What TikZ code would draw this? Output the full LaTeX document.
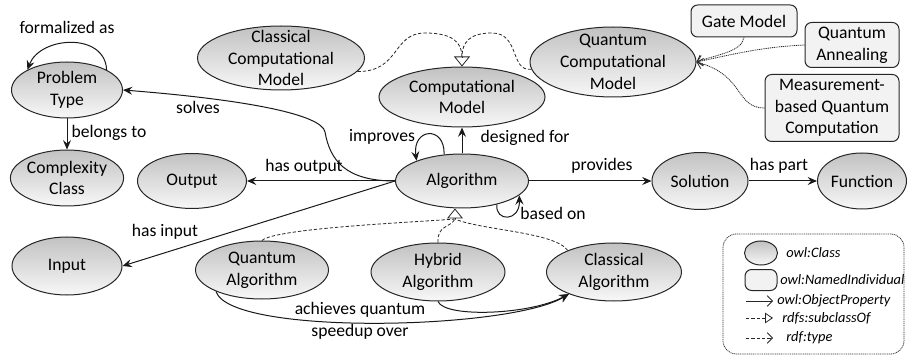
\documentclass[tikz,border=0pt]{standalone}
\usepackage{fontspec}
\setmainfont{Carlito}
\usetikzlibrary{shapes.geometric,arrows.meta}

\begin{document}
\begin{tikzpicture}[x=0.75pt,y=-0.75pt,
  font=\fontsize{13.2}{16.3}\selectfont,
  cls/.style={ellipse, draw=black!85, line width=0.75pt, top color=black!24,
    bottom color=black!3, inner sep=0pt, align=center, text=black},
  ind/.style={rectangle, rounded corners=5pt, draw=black!85, line width=0.75pt,
    fill=black!5, inner sep=0pt, align=center, text=black},
  sz/.style 2 args={minimum width=#1*0.75pt, minimum height=#2*0.75pt},
  rel/.style={draw=black!90, line width=0.75pt, -{Stealth[length=7pt,width=6pt,inset=2.5pt]}},
  sub/.style={draw=black!85, line width=0.6pt, dash pattern=on 2.5pt off 1.5pt},
  subtip/.style={draw=black!85, line width=0.6pt, -{Triangle[open,length=7.5pt,width=12pt]}},
  typ/.style={draw=black!85, line width=0.6pt, dash pattern=on 0.8pt off 0.6pt,
    -{Straight Barb[length=4pt,width=8pt]}},
  lbl/.style={inner sep=0pt, align=center, text=black},
  leg/.style={inner sep=0pt, anchor=west, text=black,
    font=\fontsize{10.8}{13}\selectfont\itshape},
]
\useasboundingbox (0,0) rectangle (907,356);

% classes
\node[cls, sz={111}{56}] (pt)   at (67,90)   {Problem\\Type};
\node[cls, sz={110}{56}] (cc)   at (67,178)  {Complexity\\Class};
\node[cls, sz={109}{55}] (outp) at (192,181) {Output};
\node[cls, sz={110}{58}] (inp)  at (67,266)  {Input};
\node[cls, sz={133}{54}] (alg)  at (462,181) {Algorithm};
\node[cls, sz={96}{57}]  (sol)  at (700,181) {Solution};
\node[cls, sz={89}{56}]  (fun)  at (862,181) {Function};
\node[cls, sz={166}{60}] (cm)   at (462,97)  {Computational\\Model};
\node[cls, sz={167}{64}, inner ysep=-9pt] (ccm) at (281,58) {Classical\\Computational\\Model};
\node[cls, sz={166}{70}, inner ysep=-9pt] (qcm) at (613,62) {Quantum\\Computational\\Model};
\node[cls, sz={133}{58}] (qalg) at (262,270) {Quantum\\Algorithm};
\node[cls, sz={134}{58}] (hyb)  at (438,272) {Hybrid\\Algorithm};
\node[cls, sz={135}{58}] (calg) at (614,272) {Classical\\Algorithm};

% individuals
\node[ind, sz={106}{32}] (gm)  at (744,21)  {Gate Model};
\node[ind, sz={94}{45}]  (qan) at (852,45)  {Quantum\\Annealing};
\node[ind, sz={134}{67}] (mbq) at (832,108) {Measurement-\\based Quantum\\Computation};

% object properties
\draw[rel] (pt.north east) .. controls (105,32) and (40,36) .. (pt.north west);
\node[lbl] (lformal) at (67,27) {formalized as};
\draw[rel] (pt.south) -- (cc.north);
\node[lbl] (lbelongs) at (109,133) {belongs to};
\draw[rel] (alg.west) .. controls (345,181) and (330,160) .. (325,132)
  .. controls (322,115) and (250,100) .. (pt.east);
\node[lbl] (lsolves) at (198,107) {solves};
\draw[rel] (alg.west) -- (outp.east);
\node[lbl] (lhasout) at (304,167) {has output};
\draw[rel] (alg.west) -- (inp.east);
\node[lbl] (lhasin) at (165,232) {has input};
\draw[rel] (alg.north) -- (cm.south);
\node[lbl] (ldesigned) at (525,138) {designed for};
\draw[rel] (alg.124) .. controls (445,125) and (412,128) .. (alg.156);
\node[lbl] (limproves) at (382,137) {improves};
\draw[rel] (alg.-34) .. controls (495,222) and (520,222) .. (alg.-14);
\node[lbl] (lbased) at (553,213) {based on};
\draw[rel] (alg.east) -- (sol.west);
\node[lbl] (lprovides) at (602,166) {provides};
\draw[rel] (sol.east) -- (fun.west);
\node[lbl] (lhaspart) at (779,166) {has part};
\draw[rel] (qalg.205) .. controls (230,336) and (510,330) .. (calg.206);
\draw[rel] (hyb.south) .. controls (445,318) and (530,315) .. (calg.206);
\node[lbl] (lspeedup) at (360,321) {achieves quantum\\speedup over};

% subclass relations
\coordinate (algtri) at (455,219);
\draw[sub] (qalg.north) .. controls (275,228) and (420,222) .. (algtri);
\draw[sub] (hyb.north) .. controls (437,225) and (450,228) .. (algtri);
\draw[sub] (calg.155) .. controls (555,232) and (480,230) .. (algtri);
\draw[subtip] (algtri) -- (algtri |- alg.south);

\coordinate (cmtri) at (462,57);
\draw[sub] (ccm.-10) .. controls (400,72) and (392,33) .. (425,33)
  .. controls (452,33) and (462,42) .. (cmtri);
\draw[sub] (qcm.185) .. controls (510,72) and (520,33) .. (492,33)
  .. controls (470,33) and (462,42) .. (cmtri);
\draw[subtip] (cmtri) -- (cm.north);

% instance-of relations
\draw[typ] (gm.south) .. controls (742,52) and (715,55) .. (qcm.east);
\draw[typ] (qan.west) .. controls (760,47) and (730,55) .. (qcm.east);
\draw[typ] (mbq.west) .. controls (735,108) and (745,75) .. (qcm.east);

% legend
\draw[draw=black!80, line width=0.6pt, dash pattern=on 0.8pt off 0.6pt, rounded corners=10pt]
  (723,234) rectangle (904,354);
\node[cls, sz={33}{24}] (lgcls) at (761,253) {};
\node[leg] (lgclstxt) at (786,253) {owl:Class};
\node[ind, sz={32}{21}] (lgind) at (761,280) {};
\node[leg] (lgindtxt) at (780,280) {owl:NamedIndividual};
\coordinate (lgoa) at (746,301); \coordinate (lgob) at (773,301);
\draw[draw=black!85, line width=0.6pt, -{Straight Barb[length=4pt,width=8pt]}] (lgoa) -- (lgob);
\node[leg] (lgobjtxt) at (777,301) {owl:ObjectProperty};
\coordinate (lgsa) at (746,318); \coordinate (lgsb) at (773,318);
\draw[sub, -{Triangle[open,length=6pt,width=8pt]}] (lgsa) -- (lgsb);
\node[leg] (lgsubtxt) at (782,318) {rdfs:subclassOf};
\coordinate (lgta) at (746,338); \coordinate (lgtb) at (773,338);
\draw[sub, -{Straight Barb[length=4pt,width=8pt]}] (lgta) -- (lgtb);
\node[leg] (lgtyptxt) at (786,338) {rdf:type};
\end{tikzpicture}
\end{document}
